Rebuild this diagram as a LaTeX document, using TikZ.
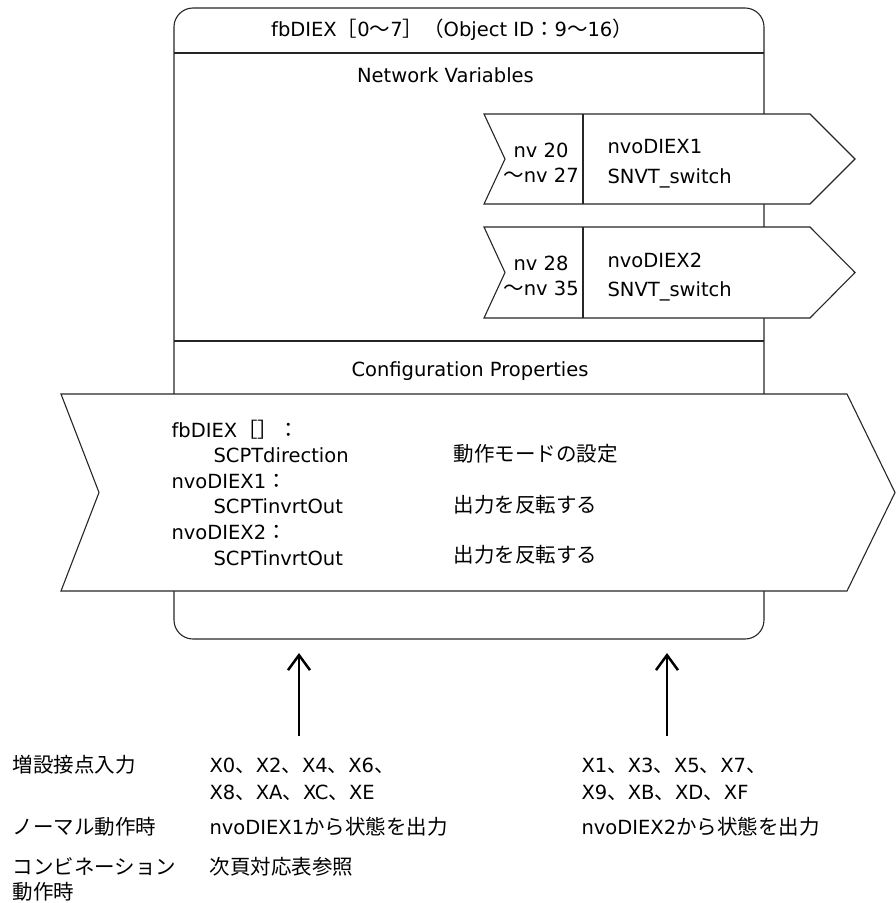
\documentclass[tikz,border=0pt]{standalone}
\usepackage{fontspec}
\setmainfont{DejaVu Sans}
\newfontfamily\jpfont{Noto Sans CJK JP}
\newcommand{\JP}[1]{{\jpfont\fontsize{20.5bp}{24bp}\selectfont #1}}
\usetikzlibrary{arrows.meta}
\begin{document}
\begin{tikzpicture}[x=1bp,y=-1bp,
  line width=1.1bp,
  txt/.style={inner sep=0pt, font=\fontsize{19.5bp}{23bp}\selectfont},
  outline/.style={draw=black!85, line width=1.1bp},
  flag/.style={draw=black!85, fill=white, line width=1.1bp, line join=miter},
  inarrow/.style={draw=black, line width=2.7bp, -{Straight Barb[length=15bp,width=22bp,line width=2.5bp]}},
  ]
\useasboundingbox (0,0) rectangle (896,903);

% main function block
\node[outline, rounded corners=19bp, minimum width=590bp, minimum height=631bp, inner sep=0pt] (box) at (469,323.5) {};
\draw[outline] (174,53) -- (764,53);
\draw[outline] (174,341) -- (764,341);

\node[txt, anchor=base] (title) at (452,36) {fbDIEX\JP{［}0\JP{～}7\JP{］（}Object ID\JP{：}9\JP{～}16\JP{）}};
\node[txt, anchor=base] (nvhead) at (445.5,82) {Network Variables};
\node[txt, anchor=base] (cphead) at (470,376) {Configuration Properties};

% network variable 1
\draw[flag] (484,114) -- (810,114) -- (855,159) -- (810,204) -- (484,204) -- (505,159) -- cycle;
\draw[outline] (583,114) -- (583,204);
\node[txt, anchor=base] (nv1a) at (541,157) {nv 20};
\node[txt, anchor=base] (nv1b) at (541,182) {\JP{～}nv 27};
\node[txt, anchor=base west] (nv1n) at (607,153) {nvoDIEX1};
\node[txt, anchor=base west] (nv1t) at (607,183) {SNVT\_switch};

% network variable 2
\draw[flag] (484,227) -- (810,227) -- (855,272.5) -- (810,318) -- (484,318) -- (505,272.5) -- cycle;
\draw[outline] (583,227) -- (583,318);
\node[txt, anchor=base] (nv2a) at (541,270) {nv 28};
\node[txt, anchor=base] (nv2b) at (541,295) {\JP{～}nv 35};
\node[txt, anchor=base west] (nv2n) at (607,267) {nvoDIEX2};
\node[txt, anchor=base west] (nv2t) at (607,296) {SNVT\_switch};

% configuration properties
\draw[flag] (61,394) -- (847,394) -- (895,492.5) -- (847,591) -- (61,591) -- (99,492.5) -- cycle;
\node[txt, anchor=base west] (cp1) at (171,437) {fbDIEX\JP{［］：}};
\node[txt, anchor=base west] (cp2) at (213,462.6) {SCPTdirection};
\node[txt, anchor=base west] (cp3) at (171,488.2) {nvoDIEX1\JP{：}};
\node[txt, anchor=base west] (cp4) at (213,513.8) {SCPTinvrtOut};
\node[txt, anchor=base west] (cp5) at (171,539.4) {nvoDIEX2\JP{：}};
\node[txt, anchor=base west] (cp6) at (213,565) {SCPTinvrtOut};
\node[txt, anchor=base west] (cpj1) at (453,461) {\JP{動作モードの設定}};
\node[txt, anchor=base west] (cpj2) at (453,512) {\JP{出力を反転する}};
\node[txt, anchor=base west] (cpj3) at (453,562) {\JP{出力を反転する}};

% input arrows
\coordinate (in1s) at (299,736);
\coordinate (in1e) at (299,653);
\coordinate (in2s) at (667,736);
\coordinate (in2e) at (667,653);
\draw[inarrow] (in1s) -- (in1e);
\draw[inarrow] (in2s) -- (in2e);

% bottom legend
\node[txt, anchor=base west] (l1) at (12,772) {\JP{増設接点入力}};
\node[txt, anchor=base west] (l2) at (12,834) {\JP{ノーマル動作時}};
\node[txt, anchor=base west] (l3) at (12,874) {\JP{コンビネーション}};
\node[txt, anchor=base west] (l4) at (12,899) {\JP{動作時}};

\node[txt, anchor=base west] (a1) at (209,772) {X0\JP{、}X2\JP{、}X4\JP{、}X6\JP{、}};
\node[txt, anchor=base west] (a2) at (209,799) {X8\JP{、}XA\JP{、}XC\JP{、}XE};
\node[txt, anchor=base west] (a3) at (209,834) {nvoDIEX1\JP{から状態を出力}};
\node[txt, anchor=base west] (a4) at (209,874) {\JP{次頁対応表参照}};

\node[txt, anchor=base west] (b1) at (581,772) {X1\JP{、}X3\JP{、}X5\JP{、}X7\JP{、}};
\node[txt, anchor=base west] (b2) at (581,799) {X9\JP{、}XB\JP{、}XD\JP{、}XF};
\node[txt, anchor=base west] (b3) at (581,834) {nvoDIEX2\JP{から状態を出力}};
\end{tikzpicture}
\end{document}
